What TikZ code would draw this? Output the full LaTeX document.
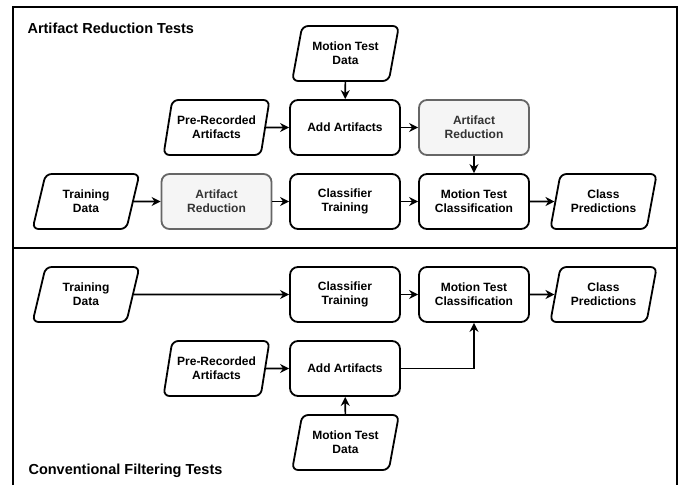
\documentclass[tikz,border=0pt]{standalone}
\usepackage{fontspec}
\setmainfont{Liberation Sans}
\usetikzlibrary{shapes.geometric,arrows.meta}
\definecolor{boxgray}{HTML}{666666}
\definecolor{boxfill}{HTML}{F5F5F5}
\definecolor{textgray}{HTML}{333333}

\begin{document}
\begin{tikzpicture}[x=1pt,y=-1pt,
    font=\fontsize{12}{14}\selectfont\bfseries,
    proc/.style={draw, line width=1.8pt, rounded corners=8pt, minimum width=110pt, minimum height=55pt, align=center, inner sep=2pt},
    redbox/.style={proc, draw=boxgray, fill=boxfill, text=textgray},
    io/.style={trapezium, draw, line width=1.8pt, rounded corners=6pt, trapezium left angle=73, trapezium right angle=107, trapezium stretches=true, minimum width=107pt, minimum height=55pt, align=center, inner sep=2pt},
    flow/.style={-{Stealth[length=9pt,width=9pt]}, line width=1.6pt},
    title/.style={anchor=west, font=\fontsize{14.5}{17}\selectfont\bfseries}]
    \useasboundingbox (0,0) rectangle (680,485);

    % Frame
    \draw[line width=1.8pt] (13,485) -- (13,7) -- (677,7) -- (677,485);
    \draw[line width=1.8pt] (13,248) -- (677,248);

    % Artifact Reduction Tests
    \node[title] (toptitle) at (24,28) {Artifact Reduction Tests};
    \node[io] (mtdA) at (345.5,53.5) {Motion Test\\Data};
    \node[proc] (addA) at (345,127.5) {Add Artifacts};
    \node[io] (preA) at (216.5,127.5) {Pre-Recorded\\Artifacts};
    \node[redbox] (redA) at (474,127.5) {Artifact\\Reduction};
    \node[io] (trainA) at (86,201.5) {Training\\Data};
    \node[redbox] (redB) at (216.5,201.5) {Artifact\\Reduction};
    \node[proc] (ctA) at (345,201.5) {Classifier\\Training};
    \node[proc] (clsA) at (474,201.5) {Motion Test\\Classification};
    \node[io] (predA) at (603.5,201.5) {Class\\Predictions};

    \draw[flow] (mtdA) -- (addA);
    \draw[flow] (preA) -- (addA);
    \draw[flow] (addA) -- (redA);
    \draw[flow] (redA) -- (clsA);
    \draw[flow] (trainA) -- (redB);
    \draw[flow] (redB) -- (ctA);
    \draw[flow] (ctA) -- (clsA);
    \draw[flow] (clsA) -- (predA);

    % Conventional Filtering Tests
    \node[title] (bottitle) at (25,471) {Conventional Filtering Tests};
    \node[io] (trainB) at (86,294.5) {Training\\Data};
    \node[proc] (ctB) at (345,294.5) {Classifier\\Training};
    \node[proc] (clsB) at (474,294.5) {Motion Test\\Classification};
    \node[io] (predB) at (603.5,294.5) {Class\\Predictions};
    \node[io] (preB) at (216.5,368.5) {Pre-Recorded\\Artifacts};
    \node[proc] (addB) at (345,368.5) {Add Artifacts};
    \node[io] (mtdB) at (345.5,442.5) {Motion Test\\Data};

    \draw[flow] (trainB) -- (ctB);
    \draw[flow] (ctB) -- (clsB);
    \draw[flow] (clsB) -- (predB);
    \draw[flow] (preB) -- (addB);
    \draw[flow] (mtdB) -- (addB);
    \draw[flow] (addB) -| (clsB);
\end{tikzpicture}
\end{document}
